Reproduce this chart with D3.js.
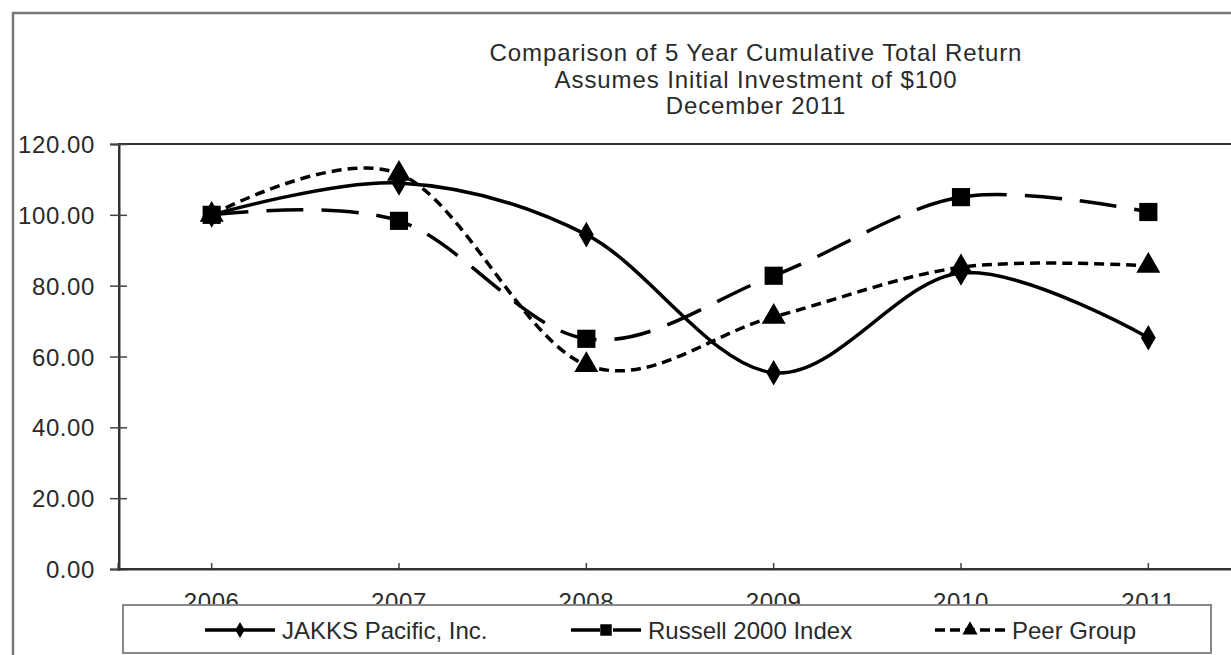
<!DOCTYPE html>
<html>
<head>
<meta charset="utf-8">
<script src="https://cdn.jsdelivr.net/npm/d3@7"></script>
<style>
  body { margin: 0; background: #fff; }
  svg { display: block; font-family: "Liberation Sans", Arial, sans-serif; }
</style>
</head>
<body>
<script>
// data
var years = ["2006", "2007", "2008", "2009", "2010", "2011"];
var jakks = [100, 109, 94.4, 55.4, 83.6, 65.3];
var russell = [100, 98.3, 65, 82.8, 105, 100.8];
var peer = [100, 111.6, 57.6, 71.2, 85.2, 85.6];
var yTicks = [0, 20, 40, 60, 80, 100, 120];
var titleLines = ["Comparison of 5 Year Cumulative Total Return", "Assumes Initial Investment of $100", "December 2011"];

var series = [
  { name: "JAKKS Pacific, Inc.", values: jakks, dash: null, legendDash: null, marker: d3.symbolDiamond },
  { name: "Russell 2000 Index", values: russell, dash: "37,18", legendDash: "29,13", marker: d3.symbolSquare },
  { name: "Peer Group", values: peer, dash: "10,6", legendDash: "10,5", marker: d3.symbolTriangle }
];

var W = 1231, H = 655;
var svg = d3.select("body").append("svg").attr("width", W).attr("height", H);

// outer chart frame (runs off the right and bottom)
svg.append("rect").attr("x", 13).attr("y", 13).attr("width", 1400).attr("height", 800)
  .attr("fill", "#fff").attr("stroke", "#777").attr("stroke-width", 2.5);

var x = d3.scaleBand().domain(years).range([118, 1242]);
var y = d3.scaleLinear().domain([0, 120]).range([569, 144]);

// title
svg.append("g").selectAll("text").data(titleLines).enter().append("text")
  .attr("x", 756).attr("y", function(d, i) { return 61 + i * 26.5; })
  .attr("text-anchor", "middle").attr("font-size", 24).attr("fill", "#2a2a2a")
  .attr("letter-spacing", 0.9)
  .text(function(d) { return d; });

// plot area border
svg.append("rect").attr("x", 119).attr("y", y(120)).attr("width", 1200).attr("height", y(0) - y(120))
  .attr("fill", "none").attr("stroke", "#333").attr("stroke-width", 2);

// y axis
var yAxis = d3.axisLeft(y).tickValues(yTicks).tickSize(9)
  .tickFormat(function(d) { return d3.format(".2f")(d); });
var gy = svg.append("g").attr("transform", "translate(119,0)").call(yAxis);
gy.select(".domain").attr("stroke", "#333").attr("stroke-width", 2);
gy.selectAll(".tick line").attr("x2", -9).attr("x1", 8).attr("stroke", "#444").attr("stroke-width", 1.5);
gy.selectAll(".tick text").attr("x", -24).attr("dy", "0.36em")
  .attr("font-size", 24).attr("letter-spacing", 0.6).attr("fill", "#2a2a2a")
  .attr("font-family", "Liberation Sans, Arial, sans-serif");

// x axis
var xAxis = d3.axisBottom(x).tickSize(-6).tickPadding(30);
var gx = svg.append("g").attr("transform", "translate(0," + y(0) + ")").call(xAxis);
gx.select(".domain").attr("stroke", "#333").attr("stroke-width", 2);
gx.selectAll(".tick line").attr("stroke", "#444").attr("stroke-width", 1.5);
gx.selectAll(".tick text").attr("y", 41).attr("dy", 0)
  .attr("font-size", 24).attr("letter-spacing", 0.6).attr("fill", "#2a2a2a")
  .attr("font-family", "Liberation Sans, Arial, sans-serif");

// lines
var line = d3.line()
  .x(function(d, i) { return x(years[i]) + x.bandwidth() / 2; })
  .y(function(d) { return y(d); })
  .curve(d3.curveCardinal.tension(0));

function markerSize(m) {
  if (m === d3.symbolDiamond) return 190;
  if (m === d3.symbolSquare) return 330;
  return 250;
}

series.forEach(function(s) {
  svg.append("path").datum(s.values).attr("d", line)
    .attr("fill", "none").attr("stroke", "#000").attr("stroke-width", 3.5)
    .attr("stroke-dasharray", s.dash);
  svg.append("g").selectAll("path").data(s.values).enter().append("path")
    .attr("transform", function(d, i) {
      return "translate(" + (x(years[i]) + x.bandwidth() / 2) + "," + y(d) + ")";
    })
    .attr("d", d3.symbol().type(s.marker).size(markerSize(s.marker)))
    .attr("fill", "#000");
});

// legend box
var lg = svg.append("g");
lg.append("rect").attr("x", 123).attr("y", 605).attr("width", 1088).attr("height", 48)
  .attr("fill", "#fff").attr("stroke", "#888").attr("stroke-width", 2);

var legendX = [205, 571, 935];
series.forEach(function(s, i) {
  var g = lg.append("g").attr("transform", "translate(" + legendX[i] + ",630)");
  g.append("line").attr("x1", 0).attr("x2", 70).attr("y1", 0).attr("y2", 0)
    .attr("stroke", "#000").attr("stroke-width", 3.5)
    .attr("stroke-dasharray", s.legendDash);
  g.append("path").attr("transform", "translate(35,0)")
    .attr("d", d3.symbol().type(s.marker).size(markerSize(s.marker) * 0.4))
    .attr("fill", "#000");
  g.append("text").attr("x", 77).attr("y", 9).attr("font-size", 24)
    .attr("fill", "#2a2a2a").text(s.name);
});
</script>
</body>
</html>
